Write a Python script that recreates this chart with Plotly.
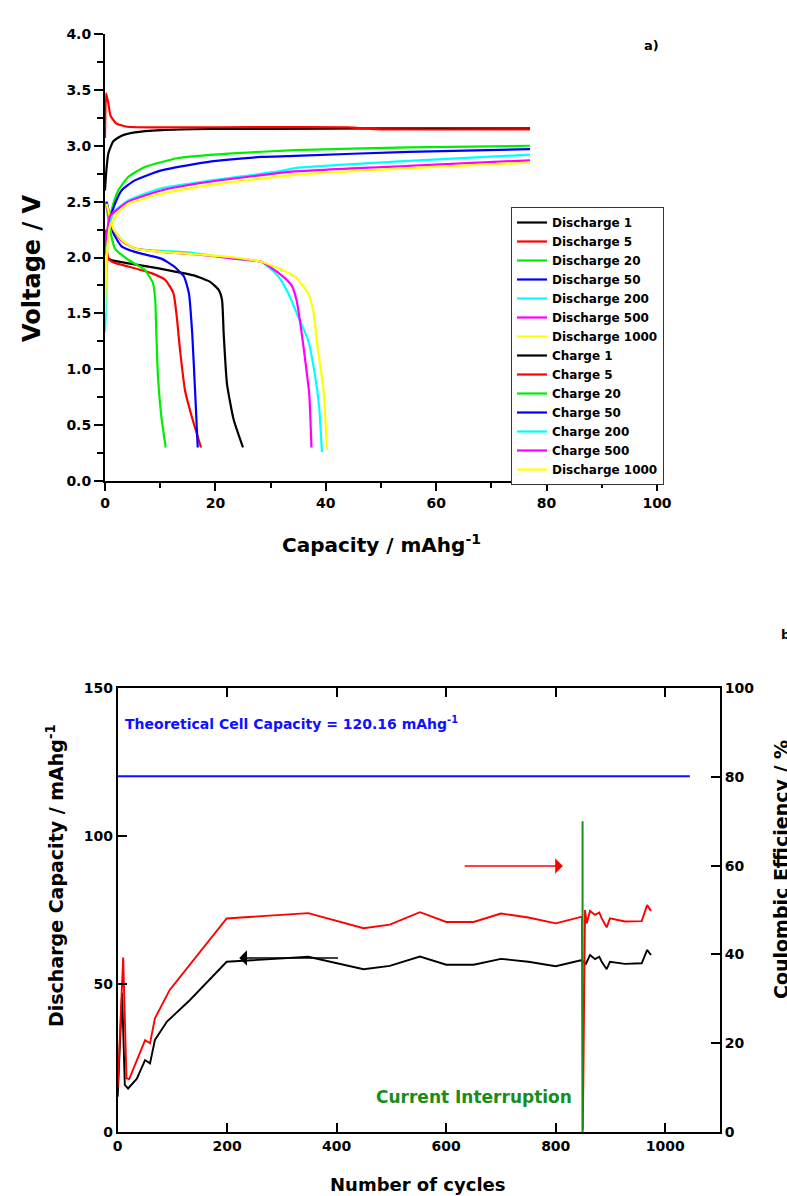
import plotly.graph_objects as go

W, H = 787, 1196

# ---------------- Panel a) data: capacity (mAh/g) vs voltage (V) ----------------
d1_cap = [0.2, 0.4, 1.0, 4.0, 10.0, 16.1, 19.1, 20.6, 21.2, 21.5, 22.1, 23.3, 25.0]
d1_v   = [2.08, 2.01, 1.98, 1.95, 1.90, 1.84, 1.78, 1.71, 1.62, 1.32, 0.87, 0.55, 0.30]
d5_cap = [0.0, 0.3, 0.6, 1.8, 4.2, 8.4, 10.9, 12.4, 13.0, 13.6, 14.5, 15.7, 17.4]
d5_v   = [2.25, 2.10, 1.99, 1.95, 1.92, 1.86, 1.80, 1.68, 1.47, 1.17, 0.81, 0.58, 0.30]
d20_cap = [0.0, 0.3, 0.9, 1.8, 4.2, 7.2, 8.7, 9.1, 9.3, 9.6, 10.2, 11.0]
d20_v   = [2.50, 2.45, 2.25, 2.08, 1.98, 1.89, 1.77, 1.62, 1.32, 0.93, 0.58, 0.30]
d50_cap = [0.3, 0.6, 1.5, 3.0, 5.4, 10.2, 12.5, 14.3, 15.2, 15.8, 16.4, 16.8]
d50_v   = [2.50, 2.43, 2.22, 2.10, 2.05, 1.99, 1.92, 1.83, 1.68, 1.32, 0.72, 0.30]
d200_cap = [0.3, 1.5, 3.0, 5.4, 10.2, 16.1, 23.4, 28.4, 31.4, 33.2, 35.0, 36.8, 38.0, 38.8, 39.3]
d200_v   = [2.45, 2.26, 2.16, 2.08, 2.06, 2.04, 1.99, 1.96, 1.83, 1.68, 1.47, 1.26, 0.96, 0.66, 0.26]
d500_cap = [0.3, 1.5, 3.0, 5.4, 10.2, 16.1, 23.4, 28.4, 32.0, 33.8, 34.7, 35.3, 36.2, 37.0, 37.4]
d500_v   = [2.45, 2.25, 2.15, 2.08, 2.05, 2.03, 1.99, 1.96, 1.84, 1.75, 1.62, 1.44, 1.11, 0.78, 0.30]
d1000_cap = [0.3, 1.5, 3.0, 5.4, 10.2, 16.1, 23.4, 28.4, 32.0, 34.4, 36.8, 37.7, 38.6, 39.6, 40.2]
d1000_v   = [2.48, 2.26, 2.16, 2.08, 2.05, 2.03, 2.00, 1.96, 1.89, 1.83, 1.68, 1.53, 1.17, 0.81, 0.28]

c1_cap = [0.0, 0.2, 0.6, 1.5, 3.0, 5.4, 10.2, 19.3, 29.5, 50.0, 77.0]
c1_v   = [2.60, 2.75, 2.93, 3.04, 3.09, 3.12, 3.14, 3.15, 3.15, 3.155, 3.155]
c5_cap = [0.0, 0.2, 0.6, 1.0, 2.0, 4.0, 10.0, 44.0, 49.0, 77.0]
c5_v   = [3.07, 3.47, 3.38, 3.27, 3.20, 3.17, 3.165, 3.165, 3.148, 3.147]
c20_cap = [0.0, 0.3, 0.6, 1.5, 2.4, 4.2, 7.2, 13.3, 22.3, 34.4, 55.0, 77.0]
c20_v   = [2.05, 2.20, 2.28, 2.48, 2.60, 2.72, 2.81, 2.89, 2.93, 2.96, 2.985, 3.00]
c50_cap = [0.0, 0.4, 0.9, 1.8, 3.0, 5.4, 10.2, 19.3, 28.4, 34.4, 55.0, 77.0]
c50_v   = [2.10, 2.20, 2.34, 2.48, 2.60, 2.69, 2.78, 2.86, 2.90, 2.91, 2.945, 2.97]
c200_cap = [0.0, 0.2, 0.5, 1.5, 4.2, 10.2, 19.3, 31.4, 34.4, 55.0, 77.0]
c200_v   = [1.33, 1.60, 2.20, 2.40, 2.51, 2.62, 2.69, 2.77, 2.80, 2.865, 2.92]
c500_cap = [0.0, 0.3, 0.9, 4.2, 10.2, 19.3, 34.4, 55.0, 77.0]
c500_v   = [2.10, 2.20, 2.37, 2.50, 2.60, 2.68, 2.77, 2.82, 2.87]
c1000_cap = [0.0, 0.3, 0.9, 2.4, 4.2, 10.2, 19.3, 34.4, 55.0, 77.0]
c1000_v   = [1.50, 2.00, 2.28, 2.40, 2.48, 2.57, 2.65, 2.74, 2.80, 2.85]

curve_names = ["Discharge 1", "Discharge 5", "Discharge 20", "Discharge 50",
               "Discharge 200", "Discharge 500", "Discharge 1000",
               "Charge 1", "Charge 5", "Charge 20", "Charge 50",
               "Charge 200", "Charge 500", "Discharge 1000"]
curve_colors = ["#000000", "#ff0000", "#00ee00", "#0000ff", "#00ffff", "#ff00ff", "#ffff00",
                "#000000", "#ff0000", "#00ee00", "#0000ff", "#00ffff", "#ff00ff", "#ffff00"]

# ---------------- Panel b) data: cycling ----------------
dc_cycles = [0, 8, 13, 19, 35, 50, 59, 68, 90, 132, 199, 348, 449, 497, 516, 552, 600, 650,
             700, 750, 800, 846, 851, 855, 862.6, 871.8, 879.6, 884, 893, 899, 926.5, 957, 967, 974]
dc_capacity = [11.9, 47.0, 15.9, 14.7, 18.0, 24.3, 23.2, 31.1, 37.3, 44.6, 57.5, 59.2, 55.0, 56.1,
               57.2, 59.3, 56.5, 56.5, 58.5, 57.5, 56.0, 58.0, 57.5, 56.8, 59.8, 58.4, 59.2, 57.5,
               55.0, 57.5, 56.8, 57.0, 61.5, 59.8]
ce_cycles = [0, 10, 16, 21, 50, 59, 68, 95, 199, 348, 449, 497, 552, 600, 650, 700, 750, 800,
             848, 849.5, 853.5, 856.6, 862.6, 871.8, 879.6, 884, 893, 899, 926.5, 957, 967, 974]
ce_percent = [9.9, 39.3, 12.1, 11.9, 20.7, 20.0, 25.6, 32.0, 48.1, 49.3, 45.9, 46.7, 49.5, 47.3,
              47.3, 49.2, 48.3, 47.0, 48.5, 0.5, 50.0, 47.0, 49.8, 48.9, 49.4, 48.1, 46.1, 48.1,
              47.4, 47.5, 51.1, 49.8]
theoretical_capacity = 120.16
theory_cycles = [0, 1045]
interruption_cycle = 849
interruption_ce = [0, 70]

FONT = "DejaVu Sans"


def px(x):
    return x / W


def py(y):
    return 1 - y / H


fig = go.Figure()

curves = [(d1_cap, d1_v), (d5_cap, d5_v), (d20_cap, d20_v), (d50_cap, d50_v),
          (d200_cap, d200_v), (d500_cap, d500_v), (d1000_cap, d1000_v),
          (c1_cap, c1_v), (c5_cap, c5_v), (c20_cap, c20_v), (c50_cap, c50_v),
          (c200_cap, c200_v), (c500_cap, c500_v), (c1000_cap, c1000_v)]
for (xs, ys), name, col in zip(curves, curve_names, curve_colors):
    fig.add_trace(go.Scatter(x=xs, y=ys, mode="lines", name=name,
                             line=dict(color=col, width=2.2, shape="spline", smoothing=0.5),
                             xaxis="x", yaxis="y"))

# Panel b traces
fig.add_trace(go.Scatter(x=theory_cycles, y=[theoretical_capacity] * 2, mode="lines",
                         line=dict(color="#1010ff", width=2), showlegend=False,
                         xaxis="x2", yaxis="y2"))
fig.add_trace(go.Scatter(x=dc_cycles, y=dc_capacity, mode="lines",
                         line=dict(color="#000000", width=1.9), showlegend=False,
                         xaxis="x2", yaxis="y2"))
fig.add_trace(go.Scatter(x=ce_cycles, y=ce_percent, mode="lines",
                         line=dict(color="#ff0000", width=1.9), showlegend=False,
                         xaxis="x2", yaxis="y3"))
fig.add_trace(go.Scatter(x=[interruption_cycle] * 2, y=interruption_ce, mode="lines",
                         line=dict(color="#1a8c1a", width=2), showlegend=False,
                         xaxis="x2", yaxis="y3"))

axis_common = dict(showgrid=False, zeroline=False, showline=True, linecolor="black",
                   linewidth=2, tickcolor="black", tickwidth=2, automargin=False,
                   tickfont=dict(family=FONT, size=14, color="black", weight="bold"))


def label(text, x, y, size, angle=0, xanchor="center", color="black"):
    return dict(text=text, x=px(x), y=py(y), xref="paper", yref="paper", textangle=angle,
                xanchor=xanchor, yanchor="middle", showarrow=False,
                font=dict(size=size, color=color))


annotations = [
    label("Voltage / V", 32, 268, 24, angle=-90),
    label("Capacity / mAhg<sup>-1</sup>", 381, 544, 20),
    label("a)", 651, 46, 13),
    label("b)", 779, 634, 13, xanchor="left"),
    label("Discharge Capacity / mAhg<sup>-1</sup>", 55, 876, 19, angle=-90),
    label("Coulombic Efficiency / %", 781, 870, 19, angle=-90),
    label("Number of cycles", 418, 1184, 18),
    dict(text="Theoretical Cell Capacity = 120.16 mAhg<sup>-1</sup>", x=9, y=138.2, xref="x2",
         yref="y2", xanchor="left", yanchor="middle", showarrow=False,
         font=dict(size=14, color="#1010ff")),
    dict(text="Current Interruption", x=651, y=11.8, xref="x2", yref="y2", xanchor="center",
         yanchor="middle", showarrow=False, font=dict(size=17, color="#1a8c1a")),
    dict(x=222, y=58.8, ax=405, ay=58.8, xref="x2", yref="y2", axref="x2", ayref="y2",
         text="", showarrow=True, arrowhead=1, arrowsize=1.6, arrowwidth=1.6,
         arrowcolor="black"),
    dict(x=813, y=59.9, ax=631, ay=59.9, xref="x2", yref="y3", axref="x2", ayref="y3",
         text="", showarrow=True, arrowhead=1, arrowsize=1.6, arrowwidth=1.6,
         arrowcolor="#ff0000"),
]

fig.update_layout(
    template="none",
    width=W, height=H,
    autosize=False,
    margin=dict(l=0, r=0, t=0, b=0, pad=0, autoexpand=False),
    paper_bgcolor="white", plot_bgcolor="white",
    font=dict(family=FONT, color="black", weight="bold"),
    xaxis=dict(domain=[px(105), px(657)], range=[0, 100], anchor="y",
               tickvals=[0, 20, 40, 60, 80, 100], ticks="outside", ticklen=8,
               minor=dict(tickvals=[10, 30, 50, 70, 90], ticks="outside", ticklen=5,
                          tickwidth=2, tickcolor="black"),
               **axis_common),
    yaxis=dict(domain=[py(481), py(34)], range=[0, 4], anchor="x",
               tickvals=[0, 0.5, 1, 1.5, 2, 2.5, 3, 3.5, 4], tickformat=".1f",
               ticks="outside", ticklen=9,
               minor=dict(tickvals=[0.25, 0.75, 1.25, 1.75, 2.25, 2.75, 3.25, 3.75],
                          ticks="outside", ticklen=6, tickwidth=2, tickcolor="black"),
               **axis_common),
    xaxis2=dict(domain=[px(117.7), px(720)], range=[0, 1100], anchor="y2",
                tickvals=[0, 200, 400, 600, 800, 1000], ticks="inside", ticklen=9,
                mirror="ticks", **axis_common),
    yaxis2=dict(domain=[py(1132), py(688)], range=[0, 150], anchor="x2",
                tickvals=[0, 50, 100, 150], ticks="inside", ticklen=9, **axis_common),
    yaxis3=dict(range=[0, 100], overlaying="y2", side="right", anchor="x2",
                tickvals=[0, 20, 40, 60, 80, 100], ticks="inside", ticklen=9, **axis_common),
    legend=dict(x=px(511), y=py(207), xanchor="left", yanchor="top",
                bordercolor="#333333", borderwidth=1, bgcolor="white",
                font=dict(family=FONT, size=12, color="black", weight="bold"),
                itemwidth=30, tracegroupgap=0),
    annotations=annotations,
    showlegend=True,
)

pin_script = (
    "document.documentElement.style.margin='0';"
    "document.body.style.margin='0';"
    "var d=document.getElementById('{plot_id}');"
    "d.style.position='fixed';d.style.left='0px';d.style.top='0px';"
)

fig.write_html("out.html", post_script=pin_script,
               config={"displayModeBar": False, "responsive": False})
